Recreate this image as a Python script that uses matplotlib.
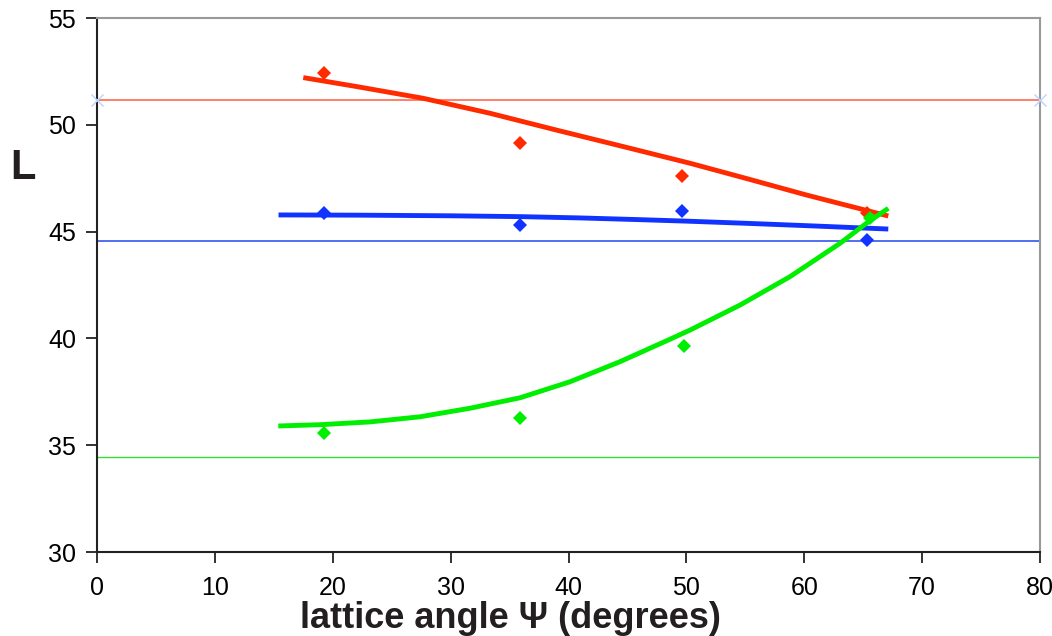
import matplotlib
matplotlib.use("Agg")
import matplotlib.pyplot as plt

# measured points (diamonds)
angle_pts = [19.3, 35.9, 49.6, 65.3]
red_pts = [52.42, 49.15, 47.6, 45.87]
blue_pts = [45.87, 45.31, 45.96, 44.6]
green_angle = [19.3, 35.9, 49.8, 65.6]
green_pts = [35.57, 36.27, 39.64, 45.64]

# model curves
red_curve_x = [17.5, 22.03, 27.68, 33.34, 39.0, 44.65, 50.31, 55.0, 60.21, 67.13]
red_curve_y = [52.21, 51.79, 51.24, 50.54, 49.75, 48.98, 48.2, 47.5, 46.71, 45.73]
blue_curve_x = [15.4, 22.0, 30.0, 36.0, 41.0, 46.0, 50.0, 55.0, 61.0, 67.13]
blue_curve_y = [45.78, 45.77, 45.74, 45.70, 45.64, 45.56, 45.49, 45.39, 45.26, 45.12]
green_curve_x = [15.38, 18.92, 23.16, 27.40, 31.64, 35.89, 40.13, 44.37, 48.61,
                 50.31, 54.55, 58.79, 63.03, 65.30, 67.13]
green_curve_y = [35.90, 35.96, 36.09, 36.33, 36.73, 37.22, 37.97, 38.91, 39.96,
                 40.39, 41.56, 42.89, 44.45, 45.40, 46.09]

# reference levels
red_level = 51.16
blue_level = 44.56
green_level = 34.45

RED = "#ff2a00"
BLUE = "#1133ff"
GREEN = "#00ee00"

fig = plt.figure(figsize=(10.52, 6.36), dpi=100)
ax = fig.add_axes([97 / 1052, 1 - 552 / 636, 943 / 1052, 534 / 636])

ax.axhline(red_level, color="#ff6a50", lw=1.2)
ax.axhline(blue_level, color="#3355ee", lw=1.2)
ax.axhline(green_level, color="#33dd33", lw=1.0)
ax.plot([0, 80], [red_level, red_level], ls="none", marker="x", ms=9, mew=1,
        color="#b8d4ff", clip_on=False, zorder=5)

ax.plot(red_curve_x, red_curve_y, color=RED, lw=3.5, solid_capstyle="butt")
ax.plot(blue_curve_x, blue_curve_y, color=BLUE, lw=3.5, solid_capstyle="butt")
ax.plot(green_curve_x, green_curve_y, color=GREEN, lw=3.5, solid_capstyle="butt")

ax.plot(angle_pts, red_pts, ls="none", marker="D", ms=7, color=RED, mew=0)
ax.plot(angle_pts, blue_pts, ls="none", marker="D", ms=7, color=BLUE, mew=0)
ax.plot(green_angle, green_pts, ls="none", marker="D", ms=7, color=GREEN, mew=0)

ax.set_xlim(0, 80)
ax.set_ylim(30, 55)
ax.set_xticks(range(0, 81, 10))
ax.set_yticks(range(30, 56, 5))

for side in ["left", "bottom"]:
    ax.spines[side].set_color("#222222")
    ax.spines[side].set_linewidth(1.5)
for side in ["top", "right"]:
    ax.spines[side].set_color("#999999")
    ax.spines[side].set_linewidth(1.5)

ax.tick_params(direction="out", length=8, width=1.3, color="#222222",
               labelsize=18, labelcolor="black")
ax.tick_params(axis="x", pad=9)
ax.tick_params(axis="y", pad=7)
for lbl in ax.get_xticklabels() + ax.get_yticklabels():
    lbl.set_fontfamily("Liberation Sans")

fig.text(10 / 1052, 1 - 168 / 636, "L", fontsize=30, fontweight="bold",
         color="#231f20", family="Liberation Sans", ha="left", va="center")
fig.text(510 / 1052, 1 - 618 / 636, "lattice angle \u03a8 (degrees)", fontsize=26,
         fontweight="bold", color="#231f20", family="Liberation Sans",
         ha="center", va="center")

fig.savefig("out.png", dpi=100, facecolor="white")
